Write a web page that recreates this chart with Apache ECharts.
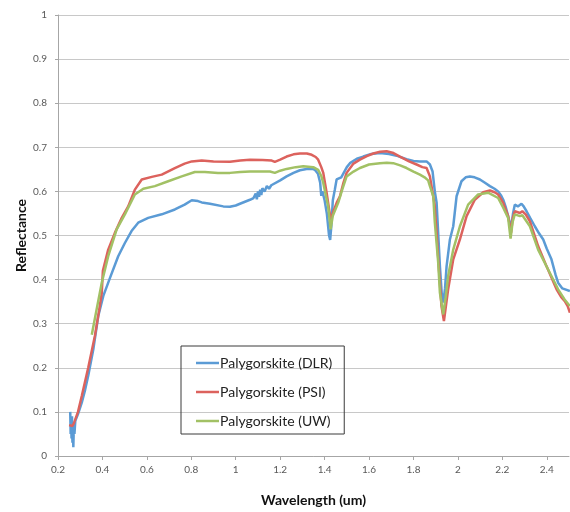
<!DOCTYPE html>
<html>
<head>
<meta charset="utf-8">
<script src="https://cdn.jsdelivr.net/npm/echarts@6/dist/echarts.min.js"></script>
<style>
html, body { margin: 0; padding: 0; background: #fff; }
#chart { width: 570px; height: 512px; }
</style>
</head>
<body>
<div id="chart"></div>
<script>
// Palygorskite (DLR)
var dlrWave = [0.255,0.257,0.259,0.261,0.263,0.265,0.267,0.269,0.271,0.274,0.278,0.29,0.307,0.322,0.336,0.359,0.381,0.404,0.434,0.471,0.501,0.531,0.561,0.606,0.667,0.726,0.77,0.802,0.83,0.847,0.884,0.944,0.974,1.0,1.019,1.064,1.08,1.09,1.095,1.1,1.105,1.11,1.115,1.12,1.13,1.14,1.15,1.16,1.169,1.2,1.229,1.26,1.289,1.319,1.345,1.356,1.37,1.38,1.385,1.39,1.4,1.41,1.42,1.425,1.43,1.437,1.446,1.454,1.475,1.484,1.5,1.514,1.545,1.574,1.61,1.649,1.69,1.724,1.769,1.8,1.829,1.859,1.874,1.886,1.896,1.904,1.919,1.927,1.934,1.942,1.949,1.964,1.979,1.994,2.016,2.035,2.054,2.075,2.099,2.12,2.144,2.165,2.181,2.195,2.204,2.215,2.226,2.234,2.241,2.248,2.256,2.27,2.286,2.296,2.309,2.325,2.346,2.365,2.384,2.4,2.421,2.44,2.451,2.47,2.504];
var dlrRefl = [0.10,0.05,0.08,0.04,0.09,0.03,0.07,0.02,0.06,0.05,0.08,0.095,0.121,0.15,0.182,0.242,0.317,0.363,0.404,0.453,0.483,0.51,0.529,0.54,0.548,0.559,0.57,0.58,0.578,0.575,0.572,0.566,0.565,0.568,0.572,0.581,0.585,0.595,0.582,0.6,0.588,0.604,0.592,0.607,0.6,0.612,0.606,0.614,0.615,0.625,0.634,0.642,0.648,0.651,0.651,0.649,0.64,0.62,0.59,0.6,0.58,0.55,0.5,0.49,0.52,0.58,0.604,0.627,0.632,0.634,0.655,0.664,0.674,0.679,0.685,0.687,0.685,0.681,0.673,0.669,0.668,0.668,0.661,0.645,0.6,0.575,0.43,0.37,0.348,0.38,0.43,0.491,0.521,0.589,0.623,0.632,0.634,0.632,0.627,0.62,0.612,0.606,0.6,0.59,0.581,0.565,0.544,0.528,0.521,0.55,0.57,0.566,0.572,0.566,0.555,0.54,0.521,0.505,0.491,0.47,0.446,0.41,0.393,0.38,0.374];

// Palygorskite (PSI)
var psiWave = [0.25,0.265,0.272,0.29,0.307,0.336,0.366,0.385,0.397,0.4,0.402,0.426,0.456,0.487,0.516,0.546,0.577,0.622,0.667,0.726,0.77,0.802,0.847,0.9,0.974,1.02,1.064,1.12,1.162,1.176,1.2,1.229,1.26,1.289,1.32,1.342,1.36,1.371,1.385,1.394,1.409,1.42,1.428,1.44,1.455,1.469,1.485,1.499,1.53,1.559,1.59,1.619,1.65,1.679,1.71,1.739,1.78,1.814,1.84,1.859,1.874,1.881,1.895,1.904,1.915,1.926,1.937,1.946,1.956,1.979,2.009,2.039,2.076,2.114,2.144,2.165,2.181,2.204,2.226,2.239,2.247,2.256,2.279,2.29,2.305,2.324,2.361,2.399,2.444,2.465,2.481,2.494,2.504];
var psiRefl = [0.07,0.068,0.075,0.1,0.136,0.2,0.272,0.33,0.37,0.4,0.42,0.468,0.506,0.54,0.566,0.604,0.627,0.633,0.638,0.653,0.663,0.668,0.67,0.668,0.667,0.67,0.672,0.671,0.67,0.667,0.672,0.679,0.684,0.686,0.686,0.683,0.678,0.672,0.655,0.642,0.597,0.56,0.535,0.555,0.575,0.589,0.62,0.642,0.663,0.672,0.68,0.686,0.69,0.691,0.687,0.679,0.668,0.661,0.655,0.653,0.634,0.63,0.57,0.506,0.42,0.34,0.306,0.34,0.378,0.446,0.491,0.544,0.581,0.598,0.602,0.598,0.593,0.574,0.544,0.506,0.54,0.555,0.551,0.555,0.548,0.532,0.476,0.43,0.378,0.36,0.351,0.34,0.325];

// Palygorskite (UW)
var uwWave = [0.352,0.374,0.397,0.426,0.464,0.501,0.546,0.584,0.636,0.696,0.757,0.816,0.861,0.92,0.974,1.02,1.064,1.154,1.176,1.2,1.229,1.27,1.304,1.349,1.371,1.385,1.394,1.416,1.427,1.437,1.461,1.48,1.499,1.53,1.559,1.6,1.649,1.68,1.709,1.74,1.769,1.8,1.829,1.85,1.866,1.874,1.889,1.896,1.911,1.919,1.934,1.945,1.956,1.979,2.009,2.046,2.091,2.136,2.181,2.204,2.226,2.237,2.246,2.256,2.279,2.29,2.324,2.361,2.406,2.451,2.48,2.504];
var uwRefl = [0.275,0.333,0.393,0.453,0.514,0.548,0.593,0.606,0.612,0.623,0.634,0.644,0.644,0.642,0.642,0.644,0.645,0.645,0.642,0.647,0.651,0.655,0.657,0.655,0.649,0.635,0.619,0.566,0.514,0.545,0.574,0.605,0.634,0.645,0.653,0.661,0.664,0.665,0.664,0.659,0.653,0.645,0.638,0.632,0.625,0.612,0.589,0.53,0.44,0.37,0.321,0.36,0.408,0.468,0.521,0.57,0.593,0.597,0.585,0.563,0.54,0.493,0.53,0.548,0.544,0.546,0.521,0.468,0.423,0.378,0.355,0.34];

var seriesNames = ['Palygorskite (DLR)', 'Palygorskite (PSI)', 'Palygorskite (UW)'];
var seriesColors = ['#5b9bd5', '#dc625d', '#a2c165'];

//拼成 [x, y]
function pairs(xs, ys) {
	var out = [];
	for (var i = 0; i < xs.length; i++) {
		out.push([xs[i], ys[i]]);
	}
	return out;
}

function lineSeries(idx, data) {
	return {
		name: seriesNames[idx],
		type: 'line',
		data: data,
		symbol: 'none',
		smooth: false,
		lineStyle: { width: 2.5, color: seriesColors[idx] },
		itemStyle: { color: seriesColors[idx] }
	};
}

var font = 'Lato, "Open Sans", sans-serif';

var option = {
	animation: false,
	textStyle: { fontFamily: font },
	grid: { left: 58, right: 1, top: 15, bottom: 55 },
	legend: {
		orient: 'vertical',
		left: 181,
		top: 346,
		data: seriesNames,
		icon: 'rect',
		itemWidth: 23,
		itemHeight: 2.5,
		itemGap: 15,
		padding: [10, 12, 6, 15],
		borderColor: '#3a3a3a',
		borderWidth: 1,
		textStyle: { fontFamily: font, fontSize: 14, lineHeight: 14, color: '#222', padding: [0, 0, 0, -4] }
	},
	xAxis: {
		type: 'value',
		min: 0.2,
		max: 2.5,
		interval: 0.2,
		name: 'Wavelength (um)',
		nameLocation: 'middle',
		nameGap: 37,
		nameTextStyle: { fontFamily: font, fontSize: 14, fontWeight: 'bold', color: '#111' },
		axisLine: { lineStyle: { color: '#a6a6a6' } },
		axisTick: { show: true, length: 4, lineStyle: { color: '#a6a6a6' } },
		axisLabel: { showMaxLabel: false, fontSize: 10, color: '#595959', margin: 9 },
		splitLine: { show: false }
	},
	yAxis: {
		type: 'value',
		min: 0,
		max: 1,
		interval: 0.1,
		name: 'Reflectance',
		nameLocation: 'middle',
		nameRotate: 90,
		nameGap: 30,
		nameMoveOverlap: false,
		nameTextStyle: { fontFamily: font, fontSize: 14, fontWeight: 'bold', color: '#111' },
		axisLine: { show: true, lineStyle: { color: '#a6a6a6' } },
		axisTick: { show: true, length: 3, lineStyle: { color: '#a6a6a6' } },
		axisLabel: { fontSize: 10, color: '#595959', margin: 11 },
		splitLine: { lineStyle: { color: '#c8c8c8', width: 1 } }
	},
	series: [
		lineSeries(0, pairs(dlrWave, dlrRefl)),
		lineSeries(1, pairs(psiWave, psiRefl)),
		lineSeries(2, pairs(uwWave, uwRefl))
	]
};

var myChart = echarts.init(document.getElementById('chart'));
myChart.setOption(option);
</script>
</body>
</html>
